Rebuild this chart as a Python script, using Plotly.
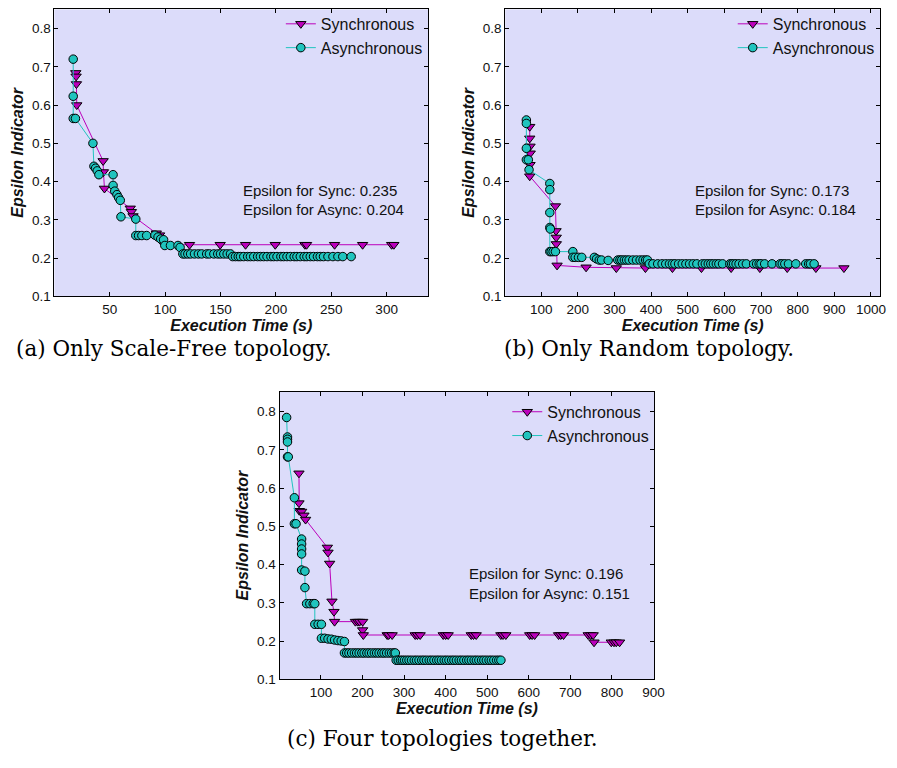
import plotly.graph_objects as go

W, H = 897, 768

# ---------------- data: (a) Only Scale-Free topology ----------------
sync_a_x = [19.3, 19.6, 19.9, 20.2, 44.0, 44.3, 45.2, 68.5, 69.5, 71.0, 92.0, 95.0, 97.0, 99.0,
            122.0, 149.7, 172.6, 199.4, 226.2, 227.7, 253.0, 278.3, 304.5, 306.5]
sync_a_y = [0.684, 0.675, 0.655, 0.600, 0.454, 0.425, 0.382, 0.330, 0.321, 0.310, 0.265, 0.260, 0.245, 0.235,
            0.235, 0.235, 0.235, 0.235, 0.235, 0.235, 0.235, 0.235, 0.235, 0.235]

async_a_x = [17.0, 17.0, 17.0, 19.0, 34.8, 35.7, 37.2, 38.7, 40.2, 53.0, 53.0, 54.5, 56.5, 58.0, 59.5, 60.1,
             73.5, 73.5, 76.0, 79.0, 83.3, 90.8, 93.6, 96.0, 98.6, 99.7, 104.8, 111.6, 113.5,
             116.0, 118.0, 120.5, 123.0, 126.5, 130.0, 133.0, 137.5, 140.0, 144.0, 147.5, 150.0, 153.0, 156.0,
             159.0, 161.0, 163.5, 166.0, 168.0, 171.0, 174.5, 177.0, 180.0, 183.5, 186.0, 189.0, 192.0,
             195.5, 198.0, 201.0, 204.5, 207.0, 210.0, 213.0, 216.5, 219.0, 222.0, 225.5, 228.0, 231.0,
             234.0, 237.5, 240.0, 243.0, 247.0, 251.5, 256.0, 260.4, 268.0]
async_a_y = [0.720, 0.623, 0.565, 0.565, 0.500, 0.440, 0.435, 0.428, 0.418, 0.418, 0.390, 0.375, 0.366, 0.358,
             0.351, 0.308, 0.302, 0.259, 0.259, 0.259, 0.259, 0.260, 0.255, 0.250, 0.248, 0.233, 0.233, 0.233,
             0.228, 0.211, 0.211, 0.211, 0.211, 0.211, 0.211, 0.211, 0.211, 0.211, 0.211, 0.211, 0.211,
             0.211, 0.211, 0.211, 0.204, 0.204, 0.204, 0.204, 0.204, 0.204, 0.204, 0.204, 0.204, 0.204,
             0.204, 0.204, 0.204, 0.204, 0.204, 0.204, 0.204, 0.204, 0.204, 0.204, 0.204, 0.204, 0.204,
             0.204, 0.204, 0.204, 0.204, 0.204, 0.204, 0.204, 0.204, 0.204, 0.204, 0.204]

# ---------------- data: (b) Only Random topology ----------------
sync_b_x = [68.7, 68.7, 69.5, 70.0, 69.5, 68.7, 138.8, 140.5, 141.0, 141.2, 143.3, 222.5,
            305.0, 384.5, 458.2, 537.4, 618.5, 696.8, 771.5, 849.8, 926.3]
sync_b_y = [0.5435, 0.513, 0.492, 0.474, 0.444, 0.414, 0.336, 0.271, 0.254, 0.237, 0.181, 0.176,
            0.174, 0.174, 0.174, 0.174, 0.174, 0.174, 0.174, 0.174, 0.174]

async_b_x = [59.5, 59.5, 59.5, 59.5, 64.9, 66.8, 123.5, 123.5, 123.5, 123.5, 125.0, 123.5, 127.1, 132.5,
             138.8, 186.4, 186.4, 192.7, 201.7, 210.7, 245.0, 251.2, 258.5, 264.7, 282.8,
             309.0, 315.0, 320.0, 327.0, 333.0, 340.0, 350.0, 360.0, 370.0, 378.0, 385.0, 390.0,
             395.0, 405.0, 418.0, 430.0, 440.0, 450.0, 458.0, 465.0, 475.0, 485.0, 495.0, 505.0,
             515.0, 525.0, 540.0, 548.0, 556.0, 563.0, 570.0, 578.0, 585.0, 595.0, 615.0, 620.0,
             625.0, 632.0, 640.0, 650.0, 660.0, 680.0, 688.0, 695.0, 700.0, 710.0, 730.0, 752.0,
             758.0, 765.0, 775.0, 795.0, 822.0, 830.0, 835.0, 845.0]
async_b_y = [0.561, 0.552, 0.487, 0.457, 0.457, 0.431, 0.395, 0.379, 0.319, 0.280, 0.276, 0.217, 0.217,
             0.217, 0.217, 0.217, 0.202, 0.202, 0.202, 0.202, 0.202, 0.198, 0.195, 0.195, 0.194,
             0.195, 0.195, 0.195, 0.195, 0.195, 0.195, 0.195, 0.195, 0.195, 0.195, 0.195, 0.195,
             0.185, 0.185, 0.185, 0.185, 0.185, 0.185, 0.185, 0.185, 0.185, 0.185, 0.185, 0.185,
             0.185, 0.185, 0.185, 0.185, 0.185, 0.185, 0.185, 0.185, 0.185, 0.185, 0.185, 0.185,
             0.185, 0.185, 0.185, 0.185, 0.185, 0.185, 0.185, 0.185, 0.185, 0.185, 0.185, 0.185,
             0.185, 0.185, 0.185, 0.185, 0.185, 0.185, 0.185, 0.185]

# ---------------- data: (c) Four topologies together ----------------
sync_c_x = [47.2, 47.2, 48.0, 53.6, 59.1, 63.1, 115.5, 117.1, 121.0, 126.6, 131.4, 132.8,
            183.0, 188.5, 193.0, 200.4, 200.4, 202.0,
            259.4, 263.0, 271.3, 326.8, 332.0, 338.7, 394.2, 400.0, 406.1, 461.6, 467.0, 473.5,
            532.9, 538.0, 544.8, 602.2, 608.0, 614.1, 671.7, 677.0, 683.6, 743.0, 749.0, 754.9,
            757.0, 798.5, 805.0, 810.4, 818.4]
sync_c_y = [0.639, 0.561, 0.541, 0.539, 0.529, 0.518, 0.445, 0.432, 0.403, 0.304, 0.277, 0.251,
            0.251, 0.251, 0.251, 0.251, 0.229, 0.216,
            0.216, 0.216, 0.216, 0.216, 0.216, 0.216, 0.216, 0.216, 0.216, 0.216, 0.216, 0.216,
            0.216, 0.216, 0.216, 0.216, 0.216, 0.216, 0.216, 0.216, 0.216, 0.216, 0.216, 0.216,
            0.197, 0.197, 0.197, 0.197, 0.197]

async_c_x = [17.5, 19.6, 19.6, 19.6, 19.6, 21.5, 36.2, 36.2, 40.2, 53.6, 53.6, 53.6, 53.6, 53.6, 61.5,
             61.5, 65.5, 73.4, 81.4, 85.3, 85.3, 93.3, 101.2, 101.2, 109.0, 117.1, 125.0, 132.8,
             140.9, 148.8, 156.6, 156.6, 162.0, 167.5, 174.0, 180.5, 186.0, 192.0, 198.5, 204.0,
             210.5, 216.0, 222.0, 228.5, 234.0, 240.0, 246.5, 252.0, 258.0, 264.5, 270.0, 276.0,
             279.0, 281.0, 286.0, 291.5, 296.0, 301.0, 306.5, 312.0, 318.0, 324.5, 330.0, 336.0,
             342.5, 348.0, 354.0, 360.5, 366.0, 372.0, 378.5, 384.0, 390.0, 396.5, 402.0, 408.0,
             414.5, 420.0, 426.0, 432.5, 438.0, 444.0, 450.5, 456.0, 462.0, 468.5, 474.0, 480.0,
             486.5, 492.0, 498.0, 504.5, 510.0, 516.0, 522.5, 528.0, 533.0]
async_c_y = [0.785, 0.734, 0.728, 0.721, 0.682, 0.682, 0.575, 0.507, 0.507, 0.467, 0.454, 0.441, 0.428,
             0.386, 0.383, 0.340, 0.298, 0.298, 0.298, 0.298, 0.244, 0.244, 0.244, 0.2075, 0.2075,
             0.2057, 0.205, 0.203, 0.2015, 0.2005, 0.199, 0.169, 0.169, 0.169, 0.169, 0.169, 0.169,
             0.169, 0.169, 0.169, 0.169, 0.169, 0.169, 0.169, 0.169, 0.169, 0.169, 0.169, 0.169,
             0.169, 0.169, 0.169, 0.169, 0.150, 0.150, 0.150, 0.150, 0.150, 0.150, 0.150, 0.150,
             0.150, 0.150, 0.150, 0.150, 0.150, 0.150, 0.150, 0.150, 0.150, 0.150, 0.150, 0.150,
             0.150, 0.150, 0.150, 0.150, 0.150, 0.150, 0.150, 0.150, 0.150, 0.150, 0.150, 0.150,
             0.150, 0.150, 0.150, 0.150, 0.150, 0.150, 0.150, 0.150, 0.150, 0.150, 0.150, 0.150,
             0.150]

series_names = ["Synchronous", "Asynchronous"]
eps_texts = [("Epsilon for Sync: 0.235", "Epsilon for Async: 0.204"),
             ("Epsilon for Sync: 0.173", "Epsilon for Async: 0.184"),
             ("Epsilon for Sync: 0.196", "Epsilon for Async: 0.151")]
captions = ["(a) Only Scale-Free topology.", "(b) Only Random topology.", "(c) Four topologies together."]
x_ticks = [[50, 100, 150, 200, 250, 300],
           [100, 200, 300, 400, 500, 600, 700, 800, 900, 1000],
           [100, 200, 300, 400, 500, 600, 700, 800, 900]]
y_ticks = [0.1, 0.2, 0.3, 0.4, 0.5, 0.6, 0.7, 0.8]
x_title = "Execution Time (s)"
y_title = "Epsilon Indicator"

# ---------------- styling / layout ----------------
SYNC_COLOR = "#bb00bb"
ASYNC_COLOR = "#20c4be"
BG = "#dcdcfa"
SANS = "Liberation Sans, Arial, Helvetica, sans-serif"
SERIF = "DejaVu Serif, Liberation Serif, serif"

# pixel boxes of the three plot areas: (left, right, top, bottom)
boxes = [(55, 433, 9.5, 299.5), (511, 890, 9.5, 299.5), (282.7, 661.7, 396, 686.5)]
x_ranges = [[0, 337.5], [2, 1025], [0.5, 902]]
y_ranges = [[0.1, 0.85], [0.1, 0.85], [0.1, 0.852]]
legend_text_left = [319, 776, 548]
legend_top = [7, 7, 399]

fig = go.Figure()

data = [(sync_a_x, sync_a_y, async_a_x, async_a_y),
        (sync_b_x, sync_b_y, async_b_x, async_b_y),
        (sync_c_x, sync_c_y, async_c_x, async_c_y)]

for i, (sx, sy, ax_, ay) in enumerate(data):
    suffix = "" if i == 0 else str(i + 1)
    leg = "legend" if i == 0 else f"legend{i + 1}"
    fig.add_trace(go.Scatter(
        x=sx, y=sy, mode="lines+markers", name=series_names[0],
        xaxis="x" + suffix, yaxis="y" + suffix, legend=leg,
        line=dict(color=SYNC_COLOR, width=1),
        marker=dict(symbol="triangle-down", size=9, color=SYNC_COLOR,
                    line=dict(color="black", width=1)),
    ))
    fig.add_trace(go.Scatter(
        x=ax_, y=ay, mode="lines+markers", name=series_names[1],
        xaxis="x" + suffix, yaxis="y" + suffix, legend=leg,
        line=dict(color=ASYNC_COLOR, width=1),
        marker=dict(symbol="circle", size=8.5, color=ASYNC_COLOR,
                    line=dict(color="black", width=1)),
    ))

layout = dict(
    width=W, height=H, margin=dict(l=0, r=0, t=0, b=0),
    paper_bgcolor="white", plot_bgcolor=BG,
    font=dict(family=SANS, size=13, color="#111"),
    showlegend=True,
)

annotations = []
for i, (l, r, t, b) in enumerate(boxes):
    suffix = "" if i == 0 else str(i + 1)
    xd = [l / W, r / W]
    yd = [1 - b / H, 1 - t / H]
    layout["xaxis" + suffix] = dict(
        domain=xd, range=x_ranges[i], anchor="y" + suffix,
        tickvals=x_ticks[i], ticks="inside", ticklen=4, tickcolor="black",
        showline=True, linecolor="black", linewidth=1, mirror="ticks",
        showgrid=False, zeroline=False,
        tickfont=dict(size=13.5, color="#111"),
        title=dict(text=f"<b><i>{x_title}</i></b>", font=dict(size=16, color="#111"), standoff=2),
    )
    layout["yaxis" + suffix] = dict(
        domain=yd, range=y_ranges[i], anchor="x" + suffix,
        tickvals=y_ticks, ticks="inside", ticklen=4, tickcolor="black",
        showline=True, linecolor="black", linewidth=1, mirror="ticks",
        showgrid=False, zeroline=False,
        tickfont=dict(size=13.5, color="#111"),
        title=dict(text=f"<b><i>{y_title}</i></b>", font=dict(size=16, color="#111"), standoff=4),
    )
    leg = "legend" if i == 0 else f"legend{i + 1}"
    layout[leg] = dict(
        x=(legend_text_left[i] - 35) / W, y=1 - legend_top[i] / H, xanchor="left", yanchor="top",
        bgcolor="rgba(0,0,0,0)", borderwidth=0,
        font=dict(size=16, color="#111"),
    )
    # epsilon annotations
    ann_left = [244, 700.7, 472.7][i]
    ann_y = [(192, 212), (192, 212), (580, 600)][i]
    for txt, yy in zip(eps_texts[i], ann_y):
        annotations.append(dict(
            text=txt, xref="paper", yref="paper", x=ann_left / W, y=1 - yy / H,
            xanchor="left", yanchor="middle", showarrow=False,
            font=dict(size=15, color="#111", family=SANS),
        ))

cap_pos = [(176, 352), (656.5, 352), (447, 746)]
for txt, (cx, cy) in zip(captions, cap_pos):
    annotations.append(dict(
        text=txt, xref="paper", yref="paper", x=cx / W, y=1 - cy / H,
        xanchor="center", yanchor="middle", showarrow=False,
        font=dict(size=21.5, color="black", family=SERIF),
    ))

layout["annotations"] = annotations
fig.update_layout(**layout)
fig.write_html("out.html")
